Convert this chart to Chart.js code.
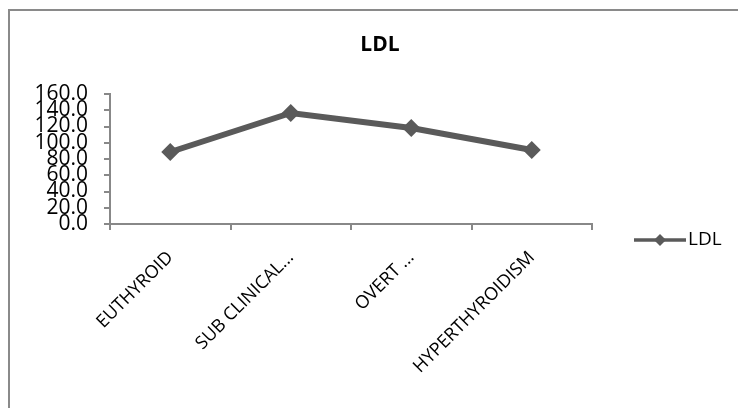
<!DOCTYPE html>
<html>
<head>
<meta charset="utf-8">
<script src="https://cdn.jsdelivr.net/npm/chart.js@4/dist/chart.umd.min.js"></script>
<style>
  html, body { margin: 0; padding: 0; background: #fff; }
  #wrap { position: relative; width: 738px; height: 408px; overflow: hidden; }
  #frame { position: absolute; left: 8px; top: 9px; width: 800px; height: 500px; border: 2px solid #8a8a8a; box-sizing: border-box; }
  canvas { position: absolute; left: 0; top: 0; }
</style>
</head>
<body>
<div id="wrap">
  <div id="frame"></div>
  <canvas id="c" width="738" height="408"></canvas>
</div>
<script>
const chartTitle = "LDL";
const categories = ["EUTHYROID", "SUB CLINICAL...", "OVERT ...", "HYPERTHYROIDISM"];
const seriesName = "LDL";
const ldlValues = [88.6, 136.6, 118.2, 91.1];
const yTicks = [0, 20, 40, 60, 80, 100, 120, 140, 160];

const lineColor = "#5a5a5a";
const axisColor = "#888888";

const overlay = {
  id: "overlay",
  afterDraw(chart) {
    const ctx = chart.ctx;
    ctx.save();
    ctx.fillStyle = "#000";
    ctx.font = "bold 21px 'Open Sans', sans-serif";
    ctx.textAlign = "center";
    ctx.textBaseline = "middle";
    ctx.fillText(chartTitle, 380, 45);
    const ly = 240;
    ctx.strokeStyle = lineColor;
    ctx.lineWidth = 3.5;
    ctx.beginPath();
    ctx.moveTo(634, ly);
    ctx.lineTo(686, ly);
    ctx.stroke();
    ctx.fillStyle = lineColor;
    ctx.beginPath();
    ctx.moveTo(660, ly - 6);
    ctx.lineTo(666, ly);
    ctx.lineTo(660, ly + 6);
    ctx.lineTo(654, ly);
    ctx.closePath();
    ctx.fill();
    ctx.fillStyle = "#000";
    ctx.font = "19px 'Open Sans', sans-serif";
    ctx.textAlign = "left";
    ctx.fillText(seriesName, 688, ly);
    ctx.restore();
  }
};

new Chart(document.getElementById("c"), {
  type: "line",
  data: {
    labels: categories,
    datasets: [{
      label: seriesName,
      data: ldlValues,
      borderColor: lineColor,
      backgroundColor: lineColor,
      borderWidth: 6,
      pointStyle: "rectRot",
      pointRadius: 9,
      pointHoverRadius: 9,
      pointBackgroundColor: lineColor,
      pointBorderColor: lineColor,
      pointBorderWidth: 0,
      tension: 0
    }]
  },
  options: {
    responsive: false,
    animation: false,
    devicePixelRatio: 1,
    layout: { padding: { left: 0, top: 94, right: 146, bottom: 0 } },
    plugins: {
      legend: { display: false },
      title: { display: false },
      tooltip: { enabled: false }
    },
    scales: {
      x: {
        type: "category",
        offset: true,
        afterFit(scale) { scale.height = 184; },
        grid: {
          offset: true,
          drawOnChartArea: false,
          drawTicks: true,
          tickLength: 6,
          color: axisColor,
          lineWidth: 2
        },
        border: { color: axisColor, width: 2 },
        ticks: {
          minRotation: 45,
          maxRotation: 45,
          autoSkip: false,
          padding: 17,
          color: "#000",
          font: { family: "'Open Sans', sans-serif", size: 18 }
        }
      },
      y: {
        min: 0,
        max: 160,
        afterFit(scale) { scale.width = 110; },
        afterBuildTicks(scale) { scale.ticks = yTicks.map(v => ({ value: v })); },
        grid: {
          drawOnChartArea: false,
          drawTicks: true,
          tickLength: 6,
          color: axisColor,
          lineWidth: 2
        },
        border: { color: axisColor, width: 2 },
        ticks: {
          autoSkip: false,
          padding: 16,
          color: "#000",
          font: { family: "'Open Sans', sans-serif", size: 21, lineHeight: 1 },
          callback: v => Number(v).toFixed(1)
        }
      }
    }
  },
  plugins: [overlay]
});
</script>
</body>
</html>
